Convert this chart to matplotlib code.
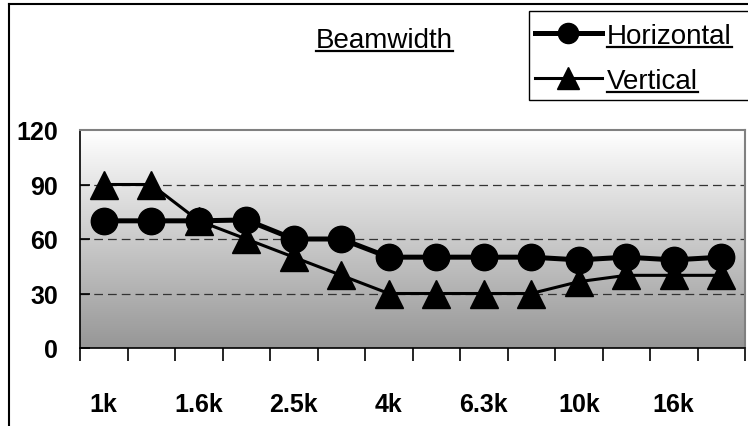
import numpy as np
import matplotlib
matplotlib.use("Agg")
import matplotlib.pyplot as plt
from matplotlib.lines import Line2D
from matplotlib.patches import Rectangle

plt.rcParams['font.family'] = ['Liberation Sans', 'DejaVu Sans']

categories = ["1k", "1.25k", "1.6k", "2k", "2.5k", "3.15k", "4k", "5k",
              "6.3k", "8k", "10k", "12.5k", "16k", "20k"]
horizontal = [70, 70, 70, 70.5, 60, 60, 50, 50, 50, 50, 48.5, 50, 48.5, 50]
vertical = [90, 90, 70, 60, 50, 40, 30, 30, 30, 30, 36.5, 40, 40, 40]
yticks = [0, 30, 60, 90, 120]

W, H = 748, 427
fig = plt.figure(figsize=(W / 100, H / 100), dpi=100)
ax = fig.add_axes([80 / W, (H - 349) / H, (745 - 80) / W, (349 - 131) / H])

n = len(categories)
x = np.arange(n)
ax.set_xlim(-0.5, n - 0.5)
ax.set_ylim(0, 120)

# gradient background
grad = np.linspace(0, 1, 256).reshape(-1, 1)
top = np.array([1.0, 1.0, 1.0])
bot = np.array([0.59, 0.59, 0.59])
img = top + (bot - top) * grad[:, :, None] * np.ones((1, 2, 1))
ax.imshow(img, extent=(-0.5, n - 0.5, 0, 120), origin='upper', aspect='auto',
          zorder=0, interpolation='bilinear')

for yv in [30, 60, 90]:
    ax.axhline(yv, color='#333333', lw=0.9, dashes=(7, 4), zorder=1)

ax.plot(x, horizontal, color='black', lw=3.6, marker='o', ms=19, zorder=3)
ax.plot(x, vertical, color='black', lw=2.2, marker='^', ms=20, zorder=3)

for s in ['top', 'right']:
    ax.spines[s].set_color('#808080')
    ax.spines[s].set_linewidth(1.5)
for s in ['left', 'bottom']:
    ax.spines[s].set_color('black')
    ax.spines[s].set_linewidth(1.2)

ax.set_yticks(yticks)
ax.set_yticklabels([str(v) for v in yticks], fontsize=18, fontweight='bold')
ax.tick_params(axis='y', direction='in', length=7, width=1.2, pad=16)

ax.set_xticks(np.arange(n + 1) - 0.5, minor=False)
ax.set_xticklabels([])
ax.tick_params(axis='x', which='major', direction='out', length=9, width=1.2)
ax.set_xticks(x[::2], minor=True)
ax.set_xticklabels(categories[::2], minor=True, fontsize=18, fontweight='bold')
ax.tick_params(axis='x', which='minor', length=0, pad=32)

# figure border
fig.add_artist(Line2D([9 / W, 9 / W], [0, 1 - 5 / H], color='black', lw=1.5,
                      transform=fig.transFigure))
fig.add_artist(Line2D([9 / W, 1], [1 - 5 / H, 1 - 5 / H], color='black', lw=1.5,
                      transform=fig.transFigure))

texts = []
# title
texts.append(fig.text(384 / W, 1 - 38 / H, 'Beamwidth', fontsize=20,
                      ha='center', va='center_baseline'))

# legend box
fig.add_artist(Rectangle((529 / W, 1 - 101 / H), 300 / W, 89 / H, fill=True,
                         facecolor='white', edgecolor='black', lw=1.0,
                         transform=fig.transFigure))
for yy, mk, lw, ms, lab in [(34, 'o', 3.6, 14.5, 'Horizontal'),
                            (79, '^', 2.2, 16, 'Vertical')]:
    fig.add_artist(Line2D([535 / W, 602 / W], [1 - yy / H, 1 - yy / H],
                          color='black', lw=lw, transform=fig.transFigure))
    fig.add_artist(Line2D([568 / W], [1 - yy / H], color='black', marker=mk,
                          ms=ms, transform=fig.transFigure))
    texts.append(fig.text(607 / W, 1 - yy / H, lab, fontsize=20,
                          ha='left', va='center_baseline'))

# underline the texts
renderer = fig.canvas.get_renderer()
inv = fig.transFigure.inverted()
for t in texts:
    bb = t.get_window_extent(renderer)
    (x0, y0), (x1, y1) = inv.transform([(bb.x0, bb.y0 + 2), (bb.x1, bb.y0 + 2)])
    fig.add_artist(Line2D([x0, x1], [y0, y1], color='black', lw=1.6,
                          transform=fig.transFigure))

fig.savefig('out.png', dpi=100)
